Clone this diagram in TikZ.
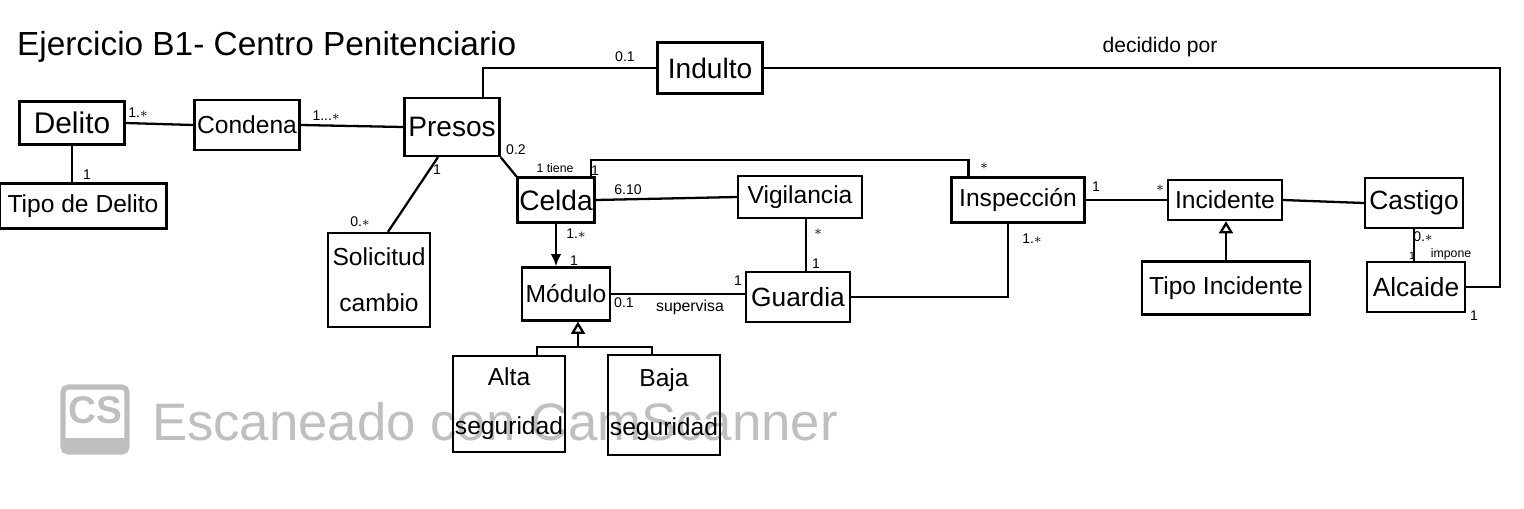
\documentclass[tikz,border=0pt]{standalone}
\usepackage{fontspec}
\setmainfont{Liberation Sans}
\usetikzlibrary{arrows.meta}
\begin{document}
\begin{tikzpicture}[x=0.02cm, y=0.02cm]
\tikzstyle{every node}+=[inner sep=1pt]
\tikzstyle{clase}=[draw, line width=1.3pt, align=center, font=\fontsize{14}{16}\selectfont]
\tikzstyle{mult}=[font=\fontsize{8}{9}\selectfont]
\tikzstyle{linea}=[line width=1.3pt]
\useasboundingbox (0,0) rectangle (1524,-508);
% marca de agua del escaner
\draw [gray!50, line width=3pt, rounded corners=3pt] (63,-387) rectangle (127,-452);
\fill [gray!50] (63,-438) rectangle (127,-452);
\draw (95,-410) node (logo) [gray!50, font=\bfseries\fontsize{22}{24}\selectfont] {CS};
\draw (150,-422) node (marca) [anchor=west, gray!50, font=\fontsize{30}{34}\selectfont] {Escaneado con CamScanner};
\draw (15,-55) node (titulo) [anchor=base west, font=\fontsize{19}{22}\selectfont] {Ejercicio B1- Centro Penitenciario};
\draw (72,-123) node (delito) [clase, minimum width=2.1cm, minimum height=0.86cm, font=\fontsize{17}{19}\selectfont] {Delito};
\draw (83,-206) node (tipodel) [clase, minimum width=3.34cm, minimum height=0.9cm] {Tipo de Delito};
\draw (247,-125) node (condena) [clase, minimum width=2.1cm, minimum height=1cm] {Condena};
\draw (452,-127) node (presos) [clase, minimum width=1.9cm, minimum height=1.16cm, font=\fontsize{16}{18}\selectfont] {Presos};
\draw (710,-68) node (indulto) [clase, minimum width=2.1cm, minimum height=1.02cm, font=\fontsize{16}{18}\selectfont] {Indulto};
\draw (379,-280) node (solicitud) [clase, minimum width=2.04cm, minimum height=1.88cm] {Solicitud\\[10pt]cambio};
\draw (556,-200) node (celda) [clase, minimum width=1.54cm, minimum height=0.9cm, font=\fontsize{16}{18}\selectfont] {Celda};
\draw (800,-197) node (vigilancia) [clase, minimum width=2.48cm, minimum height=0.84cm] {Vigilancia};
\draw (1018,-200) node (inspeccion) [clase, minimum width=2.66cm, minimum height=0.9cm] {Inspección};
\draw (1225,-200) node (incidente) [clase, minimum width=2.28cm, minimum height=0.8cm] {Incidente};
\draw (1414,-203) node (castigo) [clase, minimum width=1.96cm, minimum height=1cm, font=\fontsize{15}{17}\selectfont] {Castigo};
\draw (566,-294) node (modulo) [clase, minimum width=1.76cm, minimum height=1.06cm] {Módulo};
\draw (798,-297) node (guardia) [clase, minimum width=2.08cm, minimum height=1cm, font=\fontsize{15}{17}\selectfont] {Guardia};
\draw (1226,-288) node (tipoinc) [clase, minimum width=3.36cm, minimum height=1.06cm] {Tipo Incidente};
\draw (1416,-287) node (alcaide) [clase, minimum width=1.96cm, minimum height=1cm, font=\fontsize{15}{17}\selectfont] {Alcaide};
\draw (509,-404) node (alta) [clase, minimum width=2.16cm, minimum height=1.92cm] {Alta\\[12pt]seguridad};
\draw (664,-405) node (baja) [clase, minimum width=2.24cm, minimum height=2cm] {Baja\\[12pt]seguridad};
\coordinate (esq) at (1500,-150);
\coordinate (arriba) at (780,-160);
\coordinate (gen) at (578,-347);
\draw [linea] (delito.east) -- (condena.west);
\draw [linea] (delito.south) -- (delito.south |- tipodel.north);
\draw [linea] (condena.east) -- (presos.west);
\draw [linea] ([xshift=-0.36cm]presos.north east) |- (indulto.west);
\draw [linea] (indulto.east) -| (esq) |- (alcaide.east);
\draw [linea] (presos.south east) -- (celda.north west);
\draw [linea] ([xshift=-0.28cm]presos.south) -- ([xshift=0.18cm]solicitud.north);
\draw [linea] ([xshift=-0.1cm]celda.north east) |- (arriba) -| ([xshift=0.36cm]inspeccion.north west);
\draw [linea] (celda.east) -- (vigilancia.west);
\draw [linea, -{Latex[length=7pt,width=6pt]}] (celda.south) -- (celda.south |- modulo.north);
\draw [linea] ([xshift=0.12cm]vigilancia.south) -- ([xshift=0.12cm]vigilancia.south |- guardia.north);
\draw [linea] (modulo.east) -- (modulo.east -| guardia.west);
\draw [linea] (guardia.east) -| ([xshift=-0.2cm]inspeccion.south);
\draw [linea] (inspeccion.east) -- (incidente.west);
\draw [linea] (incidente.east) -- (castigo.west);
\draw [linea] (castigo.south) -- (castigo.south |- alcaide.north);
\draw [linea, -{Triangle[open,length=7pt,width=8pt]}] (tipoinc.north) -- (tipoinc.north |- incidente.south);
\draw [linea, -{Triangle[open,length=7pt,width=8pt]}] (gen) -- (gen |- modulo.south);
\draw [linea] ([xshift=0.56cm]alta.north) |- (gen) -| ([xshift=-0.24cm]baja.north);
\draw (138,-113) node (d1) [mult] {1.$*$};
\draw (87,-175) node (d2) [mult] {1};
\draw (326,-116) node (c1) [mult] {1...$*$};
\draw (625,-57) node (i1) [mult] {0.1};
\draw (1160,-47) node (decidido) [font=\fontsize{12}{14}\selectfont] {decidido por};
\draw (516,-150) node (p1) [mult] {0.2};
\draw (555,-168) node (ce1) [font=\fontsize{7}{8}\selectfont] {1 tiene};
\draw (595,-171) node (ce2) [mult] {1};
\draw (984,-166) node (in1) [mult] {$*$};
\draw (437,-170) node (p2) [mult] {1};
\draw (360,-222) node (s1) [mult] {0.$*$};
\draw (628,-190) node (ce3) [mult] {6.10};
\draw (576,-234) node (ce4) [mult] {1.$*$};
\draw (574,-261) node (mo1) [mult] {1};
\draw (818,-232) node (v1) [mult] {$*$};
\draw (816,-264) node (g1) [mult] {1};
\draw (738,-281) node (g2) [mult] {1};
\draw (624,-303) node (mo2) [mult] {0.1};
\draw (690,-307) node (supervisa) [font=\fontsize{9}{10}\selectfont] {supervisa};
\draw (1096,-187) node (in2) [mult] {1};
\draw (1160,-188) node (ic1) [mult] {$*$};
\draw (1032,-239) node (in3) [mult] {1.$*$};
\draw (1423,-237) node (ca1) [mult] {0.$*$};
\draw (1412,-256) node (al1) [font=\fontsize{6}{7}\selectfont] {1};
\draw (1451,-254) node (impone) [font=\fontsize{7}{8}\selectfont] {impone};
\draw (1474,-316) node (al2) [mult] {1};
\end{tikzpicture}
\end{document}
